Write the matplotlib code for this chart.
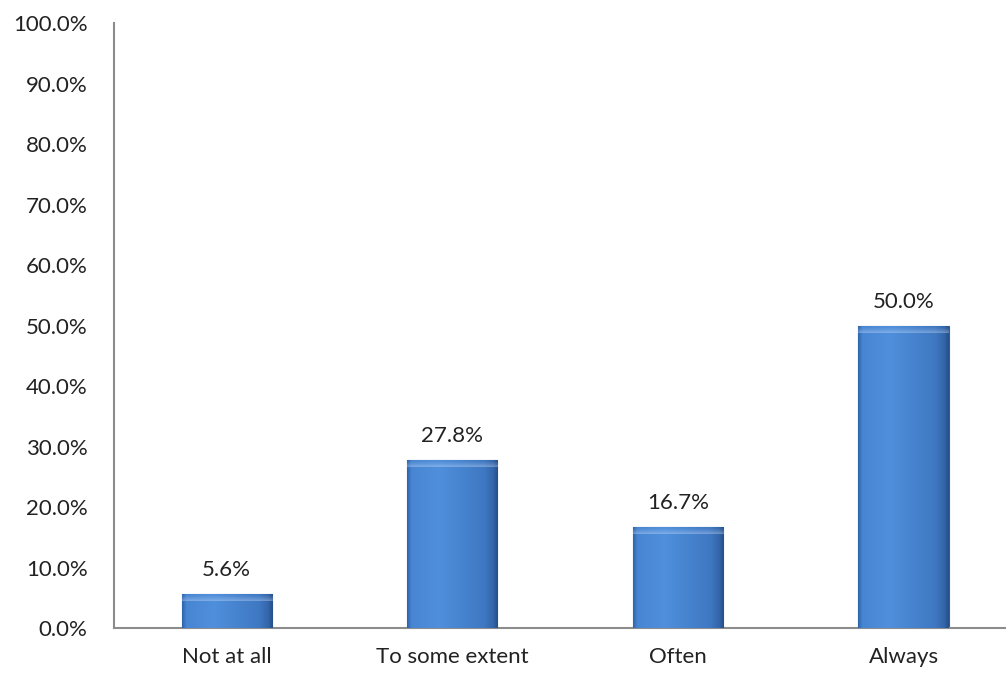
import numpy as np
import matplotlib.pyplot as plt
from matplotlib.colors import LinearSegmentedColormap
from matplotlib.ticker import FuncFormatter

categories = ["Not at all", "To some extent", "Often", "Always"]
values = [5.6, 27.8, 16.7, 50.0]
yticks = [0, 10, 20, 30, 40, 50, 60, 70, 80, 90, 100]

plt.rcParams['font.family'] = ['Lato', 'DejaVu Sans']

fig = plt.figure(figsize=(10.06, 6.75), dpi=100)
ax = fig.add_axes([0.1133, 0.0696, 0.897, 0.8963])

x = np.arange(len(categories))
bars = ax.bar(x, values, width=0.4, color='#4a86d0', edgecolor='#2f5f9c', linewidth=0.8, zorder=2)

# horizontal gradient with bevel-ish edges, clipped to each bar
grad = np.linspace(0, 1, 256).reshape(1, -1)
cmap = LinearSegmentedColormap.from_list('bev', [
    (0.0, '#2e64ad'), (0.05, '#4886d2'), (0.35, '#4f8fdc'),
    (0.85, '#3f78c2'), (0.95, '#3366aa'), (1.0, '#264f88')])
topcmap = LinearSegmentedColormap.from_list('top', [(0, (1, 1, 1, 0)), (1, (0.8, 0.88, 1, 0.4))])
for b in bars:
    x0, y0 = b.get_x(), b.get_y()
    w, h = b.get_width(), b.get_height()
    im = ax.imshow(grad, cmap=cmap, aspect='auto', extent=[x0, x0 + w, y0, y0 + h], zorder=3)
    im.set_clip_path(b)
    # soft top bevel highlight
    top = ax.imshow(np.linspace(0, 1, 64).reshape(-1, 1) ** 2, cmap=topcmap, aspect='auto',
                    extent=[x0, x0 + w, y0 + h - min(h * 0.5, 1.2), y0 + h], zorder=4)
    top.set_clip_path(b)
    ax.annotate(f"{b.get_height():.1f}%", (x0 + w / 2, y0 + h), xytext=(0, 10),
                textcoords='offset points', ha='center', va='bottom', fontsize=16, color='#222222')

ax.set_xlim(-0.5, len(categories) - 0.5)
ax.set_ylim(0, 100)
ax.set_yticks(yticks)
ax.yaxis.set_major_formatter(FuncFormatter(lambda v, p: f"{v:.1f}%"))
ax.set_xticks(x)
ax.set_xticklabels(categories)
ax.tick_params(axis='y', length=0, pad=19, labelsize=16, labelcolor='#222222')
ax.tick_params(axis='x', length=0, pad=14, labelsize=16, labelcolor='#222222')

for s in ['top', 'right']:
    ax.spines[s].set_visible(False)
for s in ['left', 'bottom']:
    ax.spines[s].set_color('#8c8c8c')
    ax.spines[s].set_linewidth(1.5)

fig.savefig('out.png', dpi=100)
